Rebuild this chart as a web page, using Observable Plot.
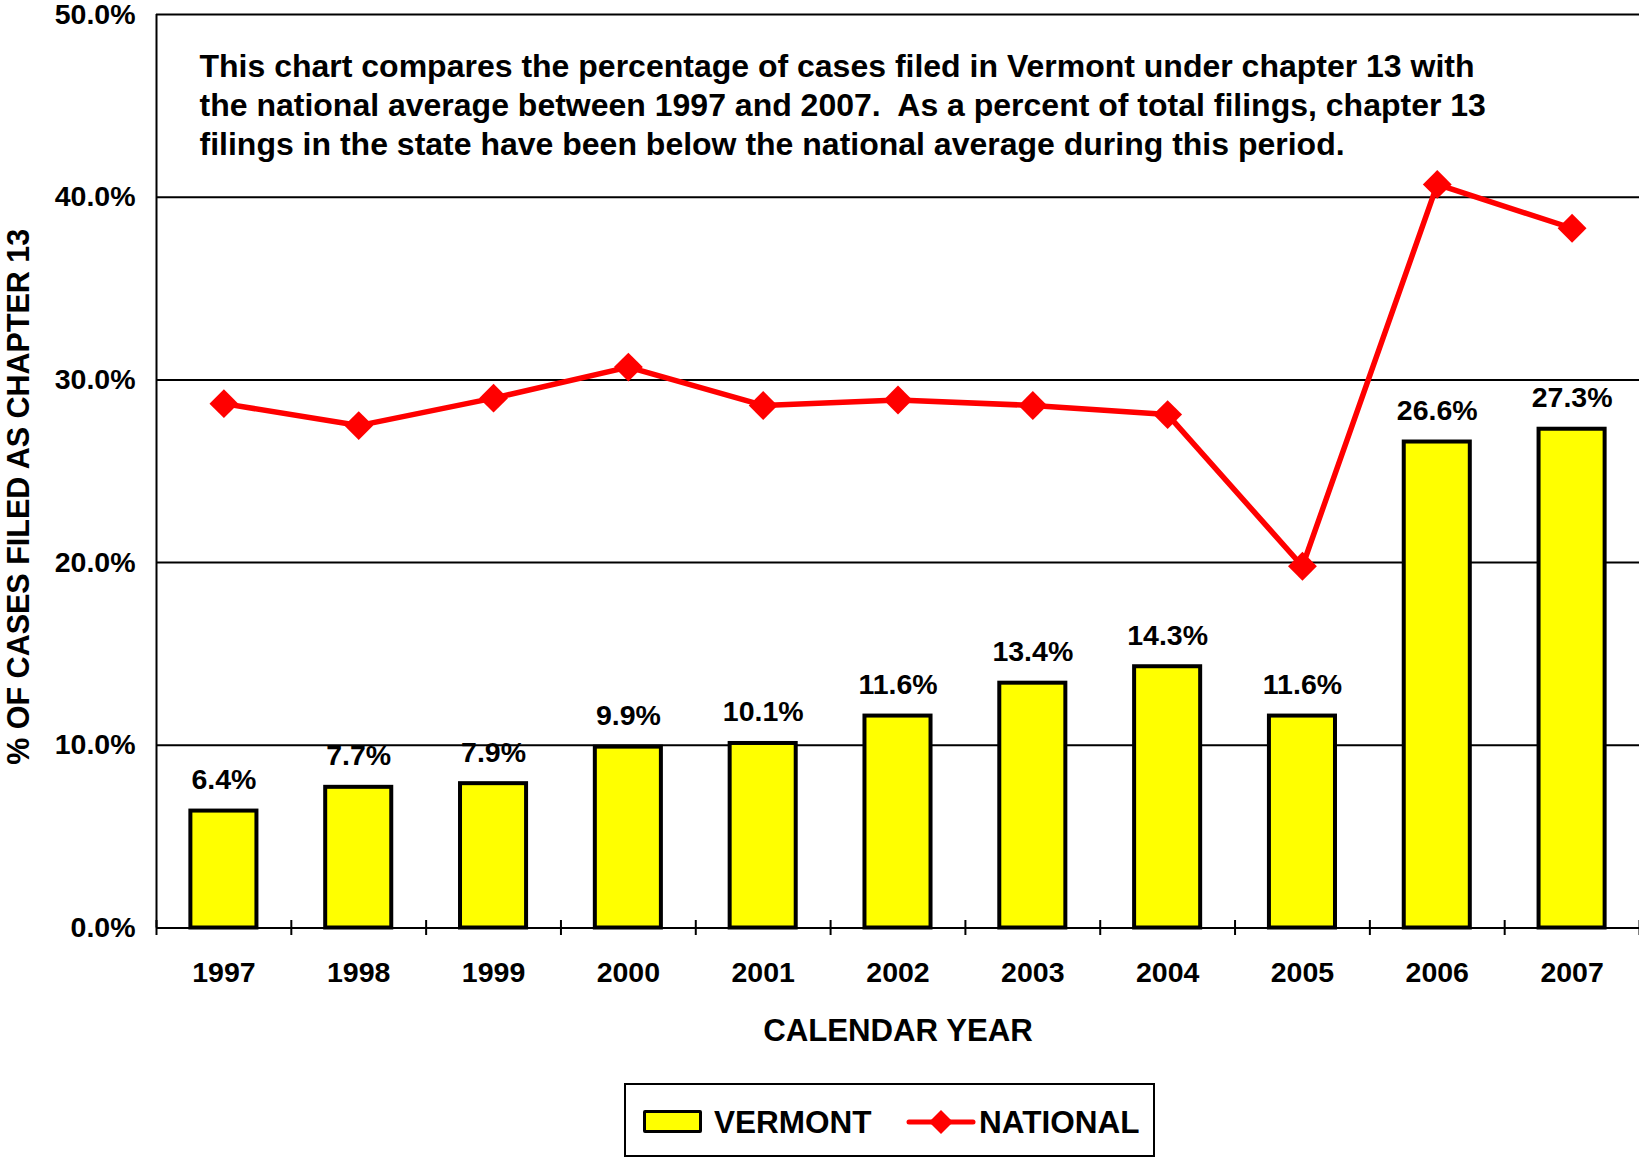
<!DOCTYPE html>
<html>
<head>
<meta charset="utf-8">
<script src="https://cdn.jsdelivr.net/npm/d3@7"></script>
<script src="https://cdn.jsdelivr.net/npm/@observablehq/plot@0.6"></script>
<style>
  html, body { margin: 0; padding: 0; background: #fff; }
  body { width: 1639px; height: 1159px; position: relative; overflow: hidden;
         font-family: "Liberation Sans", Arial, sans-serif; font-weight: bold; }
  #chart { position: absolute; left: 0; top: 0; }
  #legend { position: absolute; left: 624px; top: 1083px; width: 527px; height: 70px;
            border: 2px solid #000; background: #fff; }
  #legend .sw { position: absolute; left: 17px; top: 25px; width: 53px; height: 17px;
                background: #FFFF00; border: 3px solid #000; border-radius: 2px; }
  #legend .t { position: absolute; top: 0; line-height: 74px; font-size: 31.5px; color: #000; }
  #legend svg { position: absolute; left: 280px; top: 20px; }
</style>
</head>
<body>
<div id="chart"></div>
<div id="legend"></div>
<script>
const years = ["1997","1998","1999","2000","2001","2002","2003","2004","2005","2006","2007"];
const vermont = [6.4, 7.7, 7.9, 9.9, 10.1, 11.6, 13.4, 14.3, 11.6, 26.6, 27.3];
const national = [28.7, 27.5, 29.0, 30.7, 28.6, 28.9, 28.6, 28.1, 19.8, 40.7, 38.3];
const yTicks = [0, 10, 20, 30, 40, 50];
const noteLines = [
  "This chart compares the percentage of cases filed in Vermont under chapter 13 with",
  "the national average between 1997 and 2007.  As a percent of total filings, chapter 13",
  "filings in the state have been below the national average during this period."
];
const yLabel = "% OF CASES FILED AS CHAPTER 13";
const xLabel = "CALENDAR YEAR";
const seriesNames = ["VERMONT", "NATIONAL"];

const rows = years.map((year, i) => ({year, vermont: vermont[i], national: national[i]}));

const W = 1639, H = 1080, mL = 156, mR = 0, mT = 14, mB = 152.5;
const step = (W - mL - mR) / years.length;
const pct = d => d.toFixed(1) + "%";
const font = "'Liberation Sans', Arial, sans-serif";

const chart = Plot.plot({
  width: W, height: H,
  marginLeft: mL, marginRight: mR, marginTop: mT, marginBottom: mB,
  style: {fontFamily: font, fontWeight: "bold", color: "#000", background: "#fff", overflow: "visible"},
  x: {type: "band", domain: years, paddingInner: 0.51, paddingOuter: 0.255, round: false},
  y: {domain: [0, 50]},
  marks: [
    Plot.ruleY(yTicks.filter(d => d > 0), {stroke: "#000", strokeWidth: 2}),
    Plot.barY(rows, {x: "year", y: "vermont", fill: "#FFFF00", stroke: "#000", strokeWidth: 4}),
    Plot.ruleY([0], {stroke: "#000", strokeWidth: 2}),
    Plot.ruleX([years[0]], {dx: -step / 2, y1: 0, y2: 50, stroke: "#000", strokeWidth: 2}),
    Plot.ruleX(years, {x: d => d, dx: -step / 2, y1: -0.41, y2: 0.41, stroke: "#000", strokeWidth: 2}),
    Plot.ruleX([years[years.length - 1]], {dx: step / 2, y1: -0.41, y2: 0.41, stroke: "#000", strokeWidth: 2}),
    Plot.lineY(rows, {x: "year", y: "national", stroke: "#FF0000", strokeWidth: 5.5}),
    Plot.dot(rows, {x: "year", y: "national", symbol: "diamond2", r: 13, fill: "#FF0000", stroke: "none"}),
    Plot.text(rows, {x: "year", y: "vermont", text: d => pct(d.vermont), dy: -22, lineAnchor: "bottom",
      fontSize: 28.5, fontWeight: "bold", fill: "#000"}),
    Plot.text([noteLines.join("\n")], {frameAnchor: "top-left", textAnchor: "start", lineAnchor: "top",
      dx: 43, dy: 35, fontSize: 32, lineHeight: 39 / 32, fontWeight: "bold", fill: "#000"}),
    Plot.axisY({ticks: yTicks, tickSize: 0, tickPadding: 21, tickFormat: pct, fontSize: 28.5,
      fontWeight: "bold", label: null}),
    Plot.axisX({tickSize: 0, tickPadding: 34, fontSize: 28.5, fontWeight: "bold", label: null}),
    Plot.text([yLabel], {frameAnchor: "left", textAnchor: "middle", rotate: -90, lineAnchor: "top",
      dx: -149, dy: 25.5, fontSize: 30.5, fontWeight: "bold", fill: "#000"}),
    Plot.text([xLabel], {frameAnchor: "bottom", textAnchor: "middle", lineAnchor: "bottom", dy: 112.5,
      fontSize: 31.2, fontWeight: "bold", fill: "#000"})
  ]
});
document.getElementById("chart").appendChild(chart);

const legend = document.getElementById("legend");
legend.innerHTML = `
  <div class="sw"></div>
  <div class="t" style="left:88px">${seriesNames[0]}</div>
  <svg width="72" height="34" viewBox="0 0 72 34">
    <line x1="3" y1="17" x2="67" y2="17" stroke="#FF0000" stroke-width="5" stroke-linecap="round"/>
    <path d="M35,5 L47,17 L35,29 L23,17 Z" fill="#FF0000"/>
  </svg>
  <div class="t" style="left:353px">${seriesNames[1]}</div>
`;
</script>
</body>
</html>
